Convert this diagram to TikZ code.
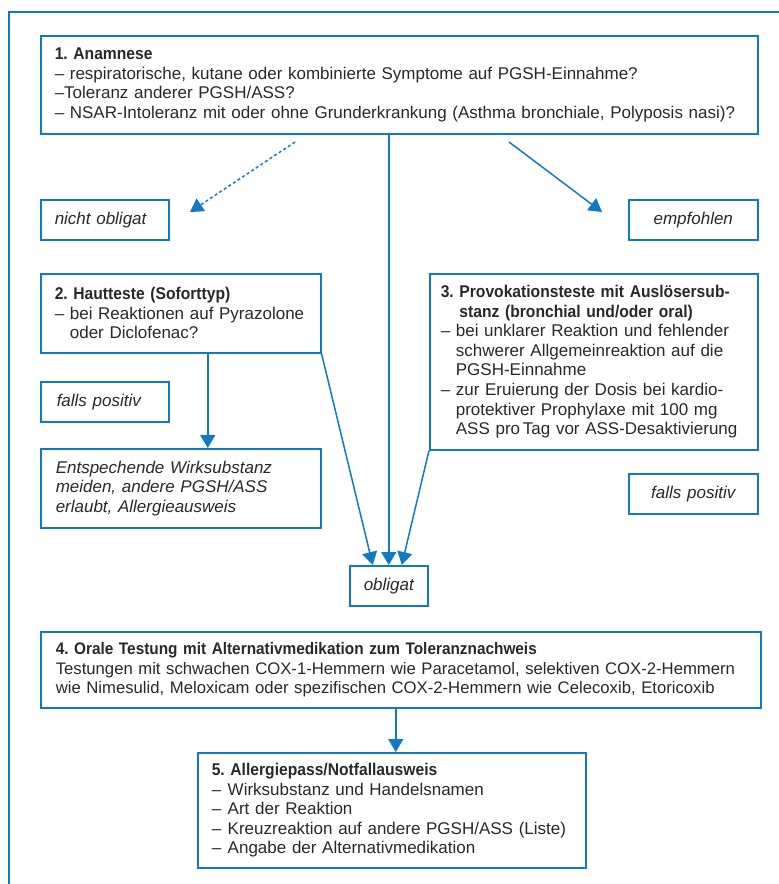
\documentclass[tikz,border=0pt]{standalone}
\usepackage{fontspec}
\setmainfont[BoldFeatures={FakeStretch=0.92}]{Liberation Sans}
\usetikzlibrary{arrows.meta}
\definecolor{flowblue}{RGB}{16,122,196}
\definecolor{flowtext}{RGB}{40,40,40}
\newcommand{\ind}{\phantom{–\ }}
\newcommand{\dashitem}{\makebox[16pt][l]{–}}
\frenchspacing
\tikzset{
  box/.style={draw=flowblue, line width=1.5pt, anchor=north west, align=left,
    text=flowtext, inner xsep=14pt, inner ysep=0pt,
    font=\fontsize{17}{19.6}\selectfont},
  tag/.style={box, minimum height=40pt, font=\itshape\fontsize{17}{19.6}\selectfont},
  link/.style={flowblue, line width=1.5pt, ->},
}
\begin{document}
\begin{tikzpicture}[x=1pt, y=-1pt, >={Triangle[length=13pt,width=15pt]}]
\useasboundingbox (0,0) rectangle (779,884);
\draw[flowblue, line width=1.5pt] (779,12) -- (9,12) -- (9,884);

% boxes
\node[box, text width=689pt, minimum height=98pt] (anam) at (40,35)
  {\textbf{1. Anamnese}\\
   – respiratorische, kutane oder kombinierte Symptome auf PGSH-Einnahme?\\
   –Toleranz anderer PGSH/ASS?\\
   – NSAR-Intoleranz mit oder ohne Grunderkrankung (Asthma bronchiale, Polyposis nasi)?};
\node[tag, text width=100pt] (nob) at (40,199) {nicht obligat};
\node[tag, text width=101pt, align=center] (empf) at (628,199) {empfohlen};
\node[box, text width=252pt, minimum height=79pt] (haut) at (40,273)
  {\textbf{2. Hautteste (Soforttyp)}\\
   – bei Reaktionen auf Pyrazolone\\
   \ind oder Diclofenac?};
\node[box, text width=306pt, inner xsep=11pt, minimum height=176pt] (prov) at (429,273)
  {\textbf{3. Provokationsteste mit Auslösersub-}\\
   \textbf{\phantom{3. }stanz (bronchial und/oder oral)}\\
   – bei unklarer Reaktion und fehlender\\
   \ind schwerer Allgemeinreaktion auf die\\
   \ind PGSH-Einnahme\\
   – zur Eruierung der Dosis bei kardio-\\
   \ind protektiver Prophylaxe mit 100 mg\\
   \ind ASS pro\,Tag vor ASS-Desaktivierung};
\node[tag, inner xsep=16pt, text width=96pt] (posl) at (40,381) {falls positiv};
\node[box, inner xsep=15pt, text width=250pt, minimum height=79pt,
  font=\itshape\fontsize{17}{19.6}\selectfont] (meid) at (40,448)
  {Entspechende Wirksubstanz\\
   meiden, andere PGSH/ASS\\
   erlaubt, Allergieausweis};
\node[tag, text width=101pt, align=center] (posr) at (628,473) {falls positiv};
\node[tag, text width=50pt, align=center] (obl) at (349,565) {obligat};
\node[box, text width=690pt, inner xsep=15pt, minimum height=76pt,
  font=\fontsize{16.7}{19.6}\selectfont] (oral) at (40,631)
  {\textbf{4. Orale Testung mit Alternativmedikation zum Toleranznachweis}\\
   Testungen mit schwachen COX-1-Hemmern wie Paracetamol, selektiven COX-2-Hemmern\\
   wie Nimesulid, Meloxicam oder spezifischen COX-2-Hemmern wie Celecoxib, Etoricoxib};
\node[box, text width=360pt, minimum height=115pt] (pass) at (197,752)
  {\textbf{5. Allergiepass/Notfallausweis}\\
   \dashitem Wirksubstanz und Handelsnamen\\
   \dashitem Art der Reaktion\\
   \dashitem Kreuzreaktion auf andere PGSH/ASS (Liste)\\
   \dashitem Angabe der Alternativmedikation};

% connectors
\coordinate (dA) at (295,142);
\coordinate (dB) at (190,212);
\coordinate (eA) at (509,142);
\coordinate (eB) at (602,212);
\draw[link, dash pattern=on 3pt off 2.5pt] (dA) -- (dB);
\draw[link] (eA) -- (eB);
\draw[link] (anam.south -| obl.north) -- (obl.north);
\draw[link] (haut.south east) -- ([xshift=-16pt]obl.north);
\draw[link] (prov.south west) -- ([xshift=13pt]obl.north);
\draw[link] ([xshift=27pt]haut.south) -- ([xshift=27pt]meid.north);
\draw[link] ([xshift=-5pt]oral.south) -- ([xshift=-5pt]oral.south |- pass.north);
\end{tikzpicture}
\end{document}
